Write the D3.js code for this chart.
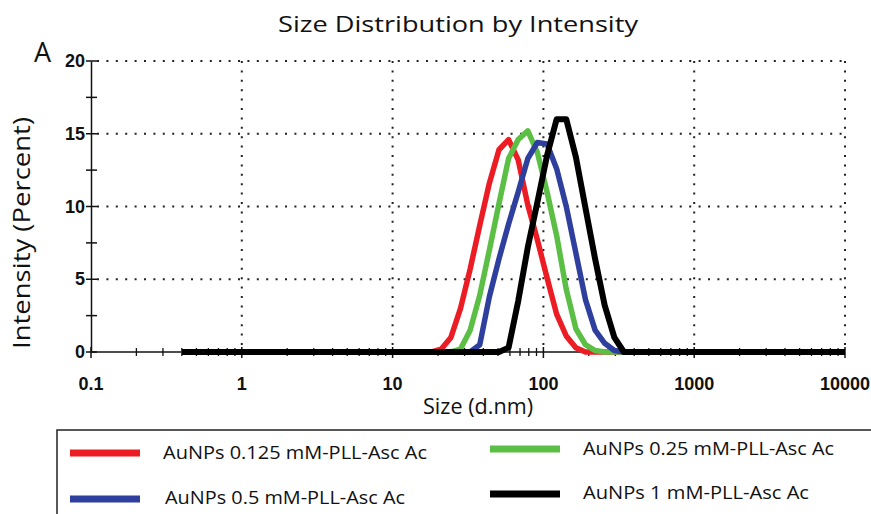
<!DOCTYPE html>
<html>
<head>
<meta charset="utf-8">
<title>Size Distribution by Intensity</title>
<script src="https://cdn.jsdelivr.net/npm/d3@7/dist/d3.min.js"></script>
<style>
  body { margin: 0; background: #fff; }
  svg { display: block; }
  .tick-label { font-family: "Liberation Sans Narrow", "Arial Narrow", "Liberation Sans", sans-serif; font-weight: bold; font-size: 18px; fill: #111; }
  .soft { font-family: "Open Sans", "Noto Sans", sans-serif; fill: #111; }
</style>
</head>
<body>
<script>
// size bins (d.nm)
var sizes = [0.4, 0.4632, 0.5365, 0.6213, 0.7195, 0.8332, 0.9649, 1.117, 1.294, 1.499,
  1.736, 2.01, 2.328, 2.696, 3.122, 3.615, 4.187, 4.849, 5.615, 6.503,
  7.531, 8.721, 10.1, 11.7, 13.54, 15.69, 18.17, 21.04, 24.36, 28.21,
  32.67, 37.84, 43.82, 50.75, 58.77, 68.06, 78.82, 91.28, 105.7, 122.4,
  141.8, 164.2, 190.1, 220.2, 255.0, 295.3, 342.0, 396.1, 458.7, 531.2,
  615.1, 712.4, 825.0, 955.4, 1106, 1281, 1484, 1718, 1990, 2305,
  2669, 3091, 3580, 4145, 4801, 5560, 6439, 7456, 8635, 10000];

// intensity (%) per bin
var red = [0,0,0,0,0,0,0,0,0,0, 0,0,0,0,0,0,0,0,0,0, 0,0,0,0,0,0,0,0.2,1.0,3.0,
  5.7,8.7,11.6,13.9,14.6,13.2,10.1,7.7,5.1,2.6, 1.1,0.3,0,0,0,0,0,0,0,0,
  0,0,0,0,0,0,0,0,0,0, 0,0,0,0,0,0,0,0,0,0];
var green = [0,0,0,0,0,0,0,0,0,0, 0,0,0,0,0,0,0,0,0,0, 0,0,0,0,0,0,0,0,0,0.2,
  1.5,3.9,7.0,10.2,13.3,14.6,15.2,13.7,11.0,8.0, 4.3,1.6,0.5,0.1,0,0,0,0,0,0,
  0,0,0,0,0,0,0,0,0,0, 0,0,0,0,0,0,0,0,0,0];
var blue = [0,0,0,0,0,0,0,0,0,0, 0,0,0,0,0,0,0,0,0,0, 0,0,0,0,0,0,0,0,0,0,
  0,0.5,3.8,6.4,8.8,11.0,13.3,14.4,14.3,12.6, 10.0,6.8,3.6,1.5,0.6,0.1,0,0,0,0,
  0,0,0,0,0,0,0,0,0,0, 0,0,0,0,0,0,0,0,0,0];
var black = [0,0,0,0,0,0,0,0,0,0, 0,0,0,0,0,0,0,0,0,0, 0,0,0,0,0,0,0,0,0,0,
  0,0,0,0,0.3,3.5,7.2,10.3,13.5,16.0, 16.0,13.4,9.9,6.4,3.2,1.0,0,0,0,0,
  0,0,0,0,0,0,0,0,0,0, 0,0,0,0,0,0,0,0,0,0];

var seriesNames = ["AuNPs 0.125 mM-PLL-Asc Ac", "AuNPs 0.25 mM-PLL-Asc Ac",
  "AuNPs 0.5 mM-PLL-Asc Ac", "AuNPs 1 mM-PLL-Asc Ac"];
var seriesColors = ["#ec1c24", "#5cbf45", "#2e3f9e", "#000000"];
var seriesValues = [red, green, blue, black];

var xTicks = [0.1, 1, 10, 100, 1000, 10000];
var xTickLabels = ["0.1", "1", "10", "100", "1000", "10000"];
var yTicks = [0, 5, 10, 15, 20];

var w = 871, h = 514;

var svg = d3.select("body").append("svg")
  .attr("width", w)
  .attr("height", h);

var x = d3.scaleLog().domain([0.1, 10000]).range([91, 845]);
var y = d3.scaleLinear().domain([0, 20]).range([352, 61]);

// dotted grid
var grid = svg.append("g")
  .attr("stroke", "#222")
  .attr("stroke-width", 2)
  .attr("stroke-dasharray", "2,7.4");

grid.selectAll("line.h")
  .data(yTicks.filter(function (d) { return d > 0; }))
  .enter().append("line")
    .attr("class", "h")
    .attr("x1", x(0.1) + 6).attr("x2", x(10000))
    .attr("y1", function (d) { return y(d); })
    .attr("y2", function (d) { return y(d); });

grid.selectAll("line.v")
  .data(xTicks.slice(1))
  .enter().append("line")
    .attr("class", "v")
    .attr("y1", y(20)).attr("y2", y(0))
    .attr("x1", function (d) { return x(d); })
    .attr("x2", function (d) { return x(d); });

// y axis
var yAxis = d3.axisLeft(y)
  .tickValues(d3.range(0, 20.1, 2.5))
  .tickSize(0)
  .tickFormat("");
svg.append("g")
  .attr("transform", "translate(" + x(0.1) + ",0)")
  .call(yAxis)
  .call(function (g) { g.select(".domain").attr("stroke", "#111").attr("stroke-width", 1.5); });

svg.append("g").selectAll("line")
  .data(d3.range(0, 20.1, 2.5))
  .enter().append("line")
    .attr("x1", x(0.1) - 5).attr("x2", x(0.1) + 6)
    .attr("y1", function (d) { return y(d); })
    .attr("y2", function (d) { return y(d); })
    .attr("stroke", "#111").attr("stroke-width", 1.5);

svg.append("g").selectAll("text")
  .data(yTicks)
  .enter().append("text")
    .attr("class", "tick-label")
    .attr("x", x(0.1) - 6)
    .attr("y", function (d) { return y(d) + 6; })
    .attr("text-anchor", "end")
    .text(function (d) { return d; });

// x axis line and ticks
svg.append("line")
  .attr("x1", x(0.1)).attr("x2", x(10000))
  .attr("y1", y(0)).attr("y2", y(0))
  .attr("stroke", "#111").attr("stroke-width", 1.5);

var minor = [];
for (var dec = 0.1; dec < 10000; dec *= 10) {
  for (var k = 2; k < 10; k++) minor.push(dec * k);
}
svg.append("g").selectAll("line")
  .data(minor)
  .enter().append("line")
    .attr("x1", function (d) { return x(d); })
    .attr("x2", function (d) { return x(d); })
    .attr("y1", y(0) - 4).attr("y2", y(0) + 4)
    .attr("stroke", "#111").attr("stroke-width", 1.3);

svg.append("g").selectAll("line")
  .data(xTicks)
  .enter().append("line")
    .attr("x1", function (d) { return x(d); })
    .attr("x2", function (d) { return x(d); })
    .attr("y1", y(0) - 5).attr("y2", y(0) + 6)
    .attr("stroke", "#111").attr("stroke-width", 1.5);

svg.append("g").selectAll("text")
  .data(xTicks)
  .enter().append("text")
    .attr("class", "tick-label")
    .attr("x", function (d) { return x(d); })
    .attr("y", 390)
    .attr("text-anchor", "middle")
    .text(function (d, i) { return xTickLabels[i]; });

// curves
var line = d3.line()
  .x(function (d, i) { return x(sizes[i]); })
  .y(function (d) { return y(d); });

svg.append("g").selectAll("path")
  .data(seriesValues)
  .enter().append("path")
    .attr("d", line)
    .attr("fill", "none")
    .attr("stroke", function (d, i) { return seriesColors[i]; })
    .attr("stroke-width", function (d, i) { return i === 3 ? 6 : 5.5; })
    .attr("stroke-linejoin", "round");

// titles
svg.append("text").attr("class", "soft")
  .attr("x", 458).attr("y", 32)
  .attr("text-anchor", "middle")
  .attr("font-size", 22)
  .attr("textLength", 360).attr("lengthAdjust", "spacingAndGlyphs")
  .text("Size Distribution by Intensity");

svg.append("text").attr("class", "soft")
  .attr("x", 34).attr("y", 62)
  .attr("font-size", 27)
  .text("A");

svg.append("text").attr("class", "soft")
  .attr("transform", "translate(30,233) rotate(-90)")
  .attr("text-anchor", "middle")
  .attr("font-size", 24)
  .attr("textLength", 232).attr("lengthAdjust", "spacingAndGlyphs")
  .text("Intensity (Percent)");

svg.append("text").attr("class", "soft")
  .attr("x", 478).attr("y", 414)
  .attr("text-anchor", "middle")
  .attr("font-size", 21)
  .attr("textLength", 110).attr("lengthAdjust", "spacingAndGlyphs")
  .text("Size (d.nm)");

// legend
svg.append("rect")
  .attr("x", 57).attr("y", 430)
  .attr("width", 840).attr("height", 110)
  .attr("fill", "none")
  .attr("stroke", "#222").attr("stroke-width", 1.5);

var legendPos = [
  {sx: 70, sy: 453, tx: 163, ty: 459, tl: 264},
  {sx: 490, sy: 449, tx: 583, ty: 455, tl: 251},
  {sx: 70, sy: 499, tx: 165, ty: 504, tl: 240},
  {sx: 490, sy: 494, tx: 583, ty: 499, tl: 226}
];

var leg = svg.append("g").selectAll("g")
  .data(seriesNames)
  .enter().append("g");

leg.append("line")
  .attr("x1", function (d, i) { return legendPos[i].sx; })
  .attr("x2", function (d, i) { return legendPos[i].sx + 70; })
  .attr("y1", function (d, i) { return legendPos[i].sy; })
  .attr("y2", function (d, i) { return legendPos[i].sy; })
  .attr("stroke", function (d, i) { return seriesColors[i]; })
  .attr("stroke-width", 7);

leg.append("text").attr("class", "soft")
  .attr("x", function (d, i) { return legendPos[i].tx; })
  .attr("y", function (d, i) { return legendPos[i].ty; })
  .attr("font-size", 18)
  .attr("textLength", function (d, i) { return legendPos[i].tl; })
  .attr("lengthAdjust", "spacingAndGlyphs")
  .text(function (d) { return d; });
</script>
</body>
</html>
